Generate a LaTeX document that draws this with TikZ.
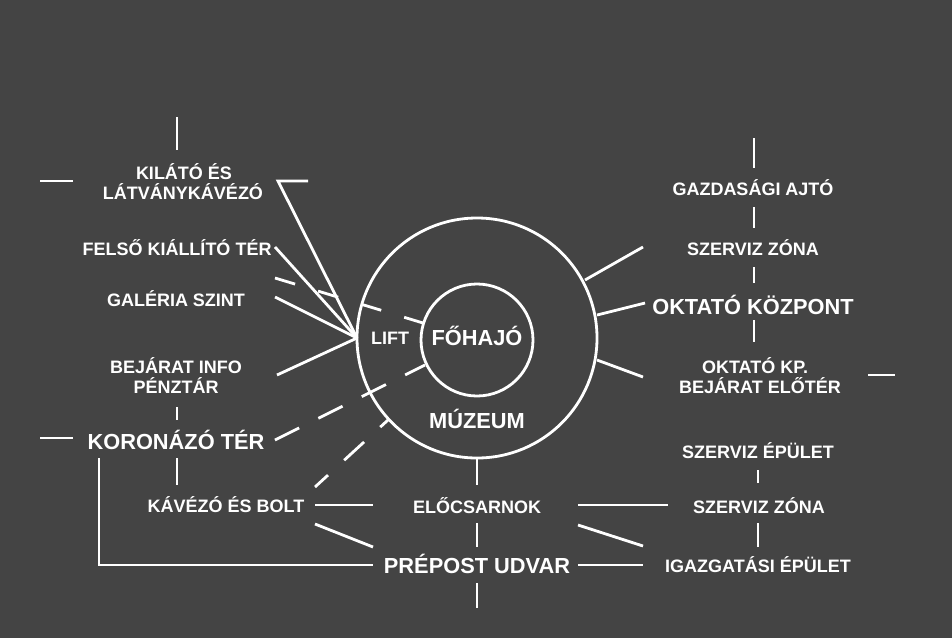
\documentclass[tikz,border=0pt]{standalone}
\usepackage{fontspec}
\setmainfont{Liberation Sans}
\definecolor{bgc}{RGB}{68,68,68}
\begin{document}
\begin{tikzpicture}[x=1pt,y=-1pt,
  lbl/.style={text=white, font=\fontsize{18}{20}\selectfont\bfseries, inner sep=0pt, anchor=base},
  big/.style={lbl, font=\fontsize{21.8}{24}\selectfont\bfseries},
  ln/.style={draw=white, line width=2.8pt},
  dsa/.style={ln, dash pattern=on 27pt off 21.5pt},
  dsb/.style={ln, dash pattern=on 27pt off 22pt, dash phase=9.4pt},
  dsc/.style={ln, dash pattern=on 21pt off 24pt},
  ring/.style={circle, draw=white, line width=2.8pt, inner sep=0pt, outer sep=0pt}]
\fill[bgc] (0,0) rectangle (952,638);
\useasboundingbox (0,0) rectangle (952,638);

% circles
\node[ring, minimum size=240pt] (museum) at (477,338) {};
\node[ring, minimum size=112pt] (nave) at (477,340) {};

% labels
\node[big] (fohajo) at (477,345.8) {FŐHAJÓ};
\node[lbl] (lift) at (390,344.5) {LIFT};
\node[big] (muzeum) at (477,428.8) {MÚZEUM};

\node[lbl] (kilato1) at (184,179.5) {KILÁTÓ ÉS};
\node[lbl] (kilato2) at (183,199.5) {LÁTVÁNYKÁVÉZÓ};
\node[lbl] (felso) at (177,255.5) {FELSŐ KIÁLLÍTÓ TÉR};
\node[lbl] (galeria) at (176,306.5) {GALÉRIA SZINT};
\node[lbl] (bejarat1) at (176,373.5) {BEJÁRAT INFO};
\node[lbl] (bejarat2) at (176,393.5) {PÉNZTÁR};
\node[big] (koronazo) at (176,449.8) {KORONÁZÓ TÉR};
\node[lbl] (kavezo) at (226,512.5) {KÁVÉZÓ ÉS BOLT};
\node[lbl] (elocs) at (477,513.5) {ELŐCSARNOK};
\node[big] (prepost) at (477,573.8) {PRÉPOST UDVAR};

\node[lbl] (gazd) at (753,195.5) {GAZDASÁGI AJTÓ};
\node[lbl] (szerv1) at (753,255.5) {SZERVIZ ZÓNA};
\node[big] (oktato) at (753,314.8) {OKTATÓ KÖZPONT};
\node[lbl] (okp1) at (755,373.5) {OKTATÓ KP.};
\node[lbl] (okp2) at (760,393.5) {BEJÁRAT ELŐTÉR};
\node[lbl] (szepulet) at (758,458.5) {SZERVIZ ÉPÜLET};
\node[lbl] (szerv2) at (759,513.5) {SZERVIZ ZÓNA};
\node[lbl] (igazg) at (758,572.5) {IGAZGATÁSI ÉPÜLET};

% connector end points
\coordinate (lp) at (museum.west);
\coordinate (kA) at (308,181); \coordinate (kB) at (278,181);
\coordinate (fA) at (275,247);
\coordinate (gA) at (275,297);
\coordinate (bA) at (277,375);
\coordinate (dA) at (275,278); \coordinate (dB) at (423,323);
\coordinate (koA) at (275,440); \coordinate (koB) at (425,365);
\coordinate (kvA) at (315,487); \coordinate (kvB) at (388,420);
\coordinate (kvC) at (315,505); \coordinate (kvD) at (373,505);
\coordinate (kvE) at (315,524); \coordinate (kvF) at (373,547);
\coordinate (brA) at (99,458); \coordinate (brB) at (99,565); \coordinate (brC) at (373,565);
\coordinate (elA) at (477,485);
\coordinate (elB) at (477,523); \coordinate (elC) at (477,547);
\coordinate (ppA) at (477,583); \coordinate (ppB) at (477,608);
\coordinate (rA) at (578,505); \coordinate (rB) at (668,505);
\coordinate (rC) at (578,525); \coordinate (rD) at (643,546);
\coordinate (rE) at (578,565); \coordinate (rF) at (643,565);
\coordinate (m1A) at (585,280); \coordinate (m1B) at (643,247);
\coordinate (m2A) at (597,315); \coordinate (m2B) at (645,303);
\coordinate (m3A) at (597,360); \coordinate (m3B) at (643,377);
\coordinate (v1A) at (754,138); \coordinate (v1B) at (754,168);
\coordinate (v2A) at (754,207); \coordinate (v2B) at (754,228);
\coordinate (v3A) at (754,267); \coordinate (v3B) at (754,283);
\coordinate (v4A) at (754,320); \coordinate (v4B) at (754,342);
\coordinate (hrA) at (868,375); \coordinate (hrB) at (895,375);
\coordinate (v5A) at (758,470); \coordinate (v5B) at (758,483);
\coordinate (v6A) at (758,523); \coordinate (v6B) at (758,547);
\coordinate (t1A) at (177,117); \coordinate (t1B) at (177,150);
\coordinate (h1A) at (40,181); \coordinate (h1B) at (73,181);
\coordinate (t2A) at (177,407); \coordinate (t2B) at (177,420);
\coordinate (h2A) at (40,438); \coordinate (h2B) at (73,438);
\coordinate (t3A) at (177,458); \coordinate (t3B) at (177,485);

% left fan to lift
\draw[ln] (kA) -- (kB) -- (lp);
\draw[ln] (fA) -- (lp);
\draw[ln] (gA) -- (lp);
\draw[ln] (bA) -- (lp);
\draw[dsc] (dA) -- (dB);
\draw[dsa] (koA) -- (koB);
\draw[dsb] (kvA) -- (kvB);

% bottom
\draw[ln] (kvC) -- (kvD);
\draw[ln] (kvE) -- (kvF);
\draw[ln] (brA) -- (brB) -- (brC);
\draw[ln] (museum.south) -- (elA);
\draw[ln] (elB) -- (elC);
\draw[ln] (ppA) -- (ppB);
\draw[ln] (rA) -- (rB);
\draw[ln] (rC) -- (rD);
\draw[ln] (rE) -- (rF);

% right
\draw[ln] (m1A) -- (m1B);
\draw[ln] (m2A) -- (m2B);
\draw[ln] (m3A) -- (m3B);
\draw[ln] (v1A) -- (v1B);
\draw[ln] (v2A) -- (v2B);
\draw[ln] (v3A) -- (v3B);
\draw[ln] (v4A) -- (v4B);
\draw[ln] (hrA) -- (hrB);
\draw[ln] (v5A) -- (v5B);
\draw[ln] (v6A) -- (v6B);

% left ticks
\draw[ln] (t1A) -- (t1B);
\draw[ln] (h1A) -- (h1B);
\draw[ln] (t2A) -- (t2B);
\draw[ln] (h2A) -- (h2B);
\draw[ln] (t3A) -- (t3B);
\end{tikzpicture}
\end{document}
